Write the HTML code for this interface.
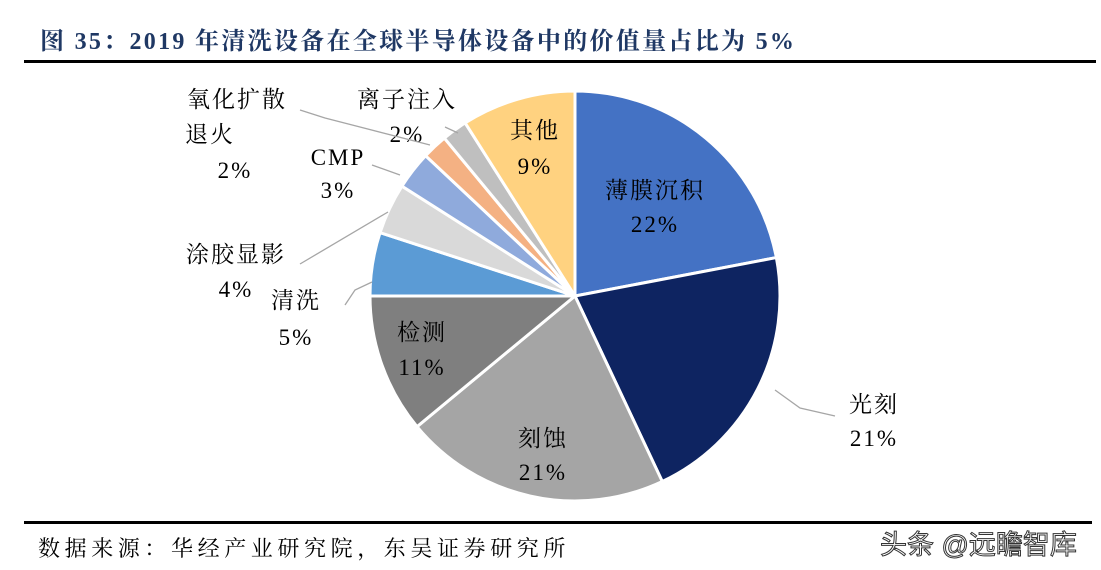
<!DOCTYPE html>
<html><head><meta charset="utf-8"><style>
body{margin:0;width:1101px;height:570px;background:#fff;overflow:hidden;font-family:"Liberation Serif","Noto Serif CJK SC",serif;}
svg{position:absolute;left:0;top:0}
</style></head><body>
<svg width="1101" height="570">
<text x="40" y="49" font-size="24" font-weight="bold" fill="#1F3864" letter-spacing="2.3">图 35：2019 年清洗设备在全球半导体设备中的价值量占比为 5%</text>
<rect x="24" y="60" width="1072" height="3" fill="#000"/>
<g id="pie"></g>
<g id="labels" font-size="23" fill="#000" text-anchor="middle" letter-spacing="2"></g>
<rect x="24" y="521" width="1068" height="3" fill="#000"/>
<text x="38" y="556" font-size="22" fill="#000" letter-spacing="4.6">数据来源：华经产业研究院，东吴证券研究所</text>
<text x="880" y="554" font-size="27" fill="#fff" stroke="#333" stroke-width="1" font-family="'Liberation Sans','Noto Sans CJK SC',sans-serif">头条 @远瞻智库</text>
</svg>
<script>
const categories=["薄膜沉积","光刻","刻蚀","检测","清洗","涂胶显影","CMP","氧化扩散退火","离子注入","其他"];
const values=[22,21,21,11,5,4,3,2,2,9];
const colors=["#4472C4","#0E2461","#A5A5A5","#7F7F7F","#5B9BD5","#D9D9D9","#8FAADC","#F4B183","#BFBFBF","#FFD280"];
const cx=575,cy=296,r=205;
const ns="http://www.w3.org/2000/svg";
const pie=document.getElementById('pie'),lab=document.getElementById('labels');
const total=values.reduce((a,b)=>a+b,0);
function pt(a,rr){return [cx+rr*Math.sin(a),cy-rr*Math.cos(a)];}
let a0=0;const mids=[];
values.forEach((v,i)=>{
  const a1=a0+v/total*2*Math.PI;
  const [x0,y0]=pt(a0,r),[x1,y1]=pt(a1,r);
  const p=document.createElementNS(ns,'path');
  p.setAttribute('d',`M${cx},${cy}L${x0},${y0}A${r},${r} 0 ${a1-a0>Math.PI?1:0} 1 ${x1},${y1}Z`);
  p.setAttribute('fill',colors[i]);p.setAttribute('stroke','#fff');p.setAttribute('stroke-width','3');
  
  
  pie.appendChild(p);mids.push((a0+a1)/2);a0=a1;
});
function txt(s,x,y,name){const t=document.createElementNS(ns,'text');t.setAttribute('x',x);t.setAttribute('y',y);t.textContent=s;


lab.appendChild(t);}
function line(pts,name){const l=document.createElementNS(ns,'polyline');l.setAttribute('points',pts);l.setAttribute('fill','none');l.setAttribute('stroke','#A6A6A6');l.setAttribute('stroke-width','1.3');


lab.appendChild(l);}
const pct=values.map(v=>v+'%');
txt(categories[0],655,198,'label-0');txt(pct[0],655,232,'value-0');
txt(categories[1],874,412,'label-1');txt(pct[1],874,446,'value-1');
txt(categories[2],543,446,'label-2');txt(pct[2],543,480,'value-2');
txt(categories[3],422,340,'label-3');txt(pct[3],422,375,'value-3');
txt(categories[4],296,308,'label-4');txt(pct[4],296,345,'value-4');
txt(categories[5],236,262,'label-5');txt(pct[5],236,297,'value-5');
txt(categories[6],338,165,'label-6');txt(pct[6],338,198,'value-6');
txt("氧化扩散",237,107,'label-7a');txt("退火",210,142,'label-7b');txt(pct[7],235,178,'value-7');
txt(categories[8],407,107,'label-8');txt(pct[8],407,142,'value-8');
txt(categories[9],535,138,'label-9');txt(pct[9],535,174,'value-9');
line("775,390 800,408 835,416",'leader-1');
line("372,282 355,290 345,305",'leader-4');
line("388,212 300,264",'leader-5');
line("400,175 372,165",'leader-6');
line("300,110 325,118 430,145",'leader-7');
line("445,127 458,133",'leader-8');
</script>
</body></html>
